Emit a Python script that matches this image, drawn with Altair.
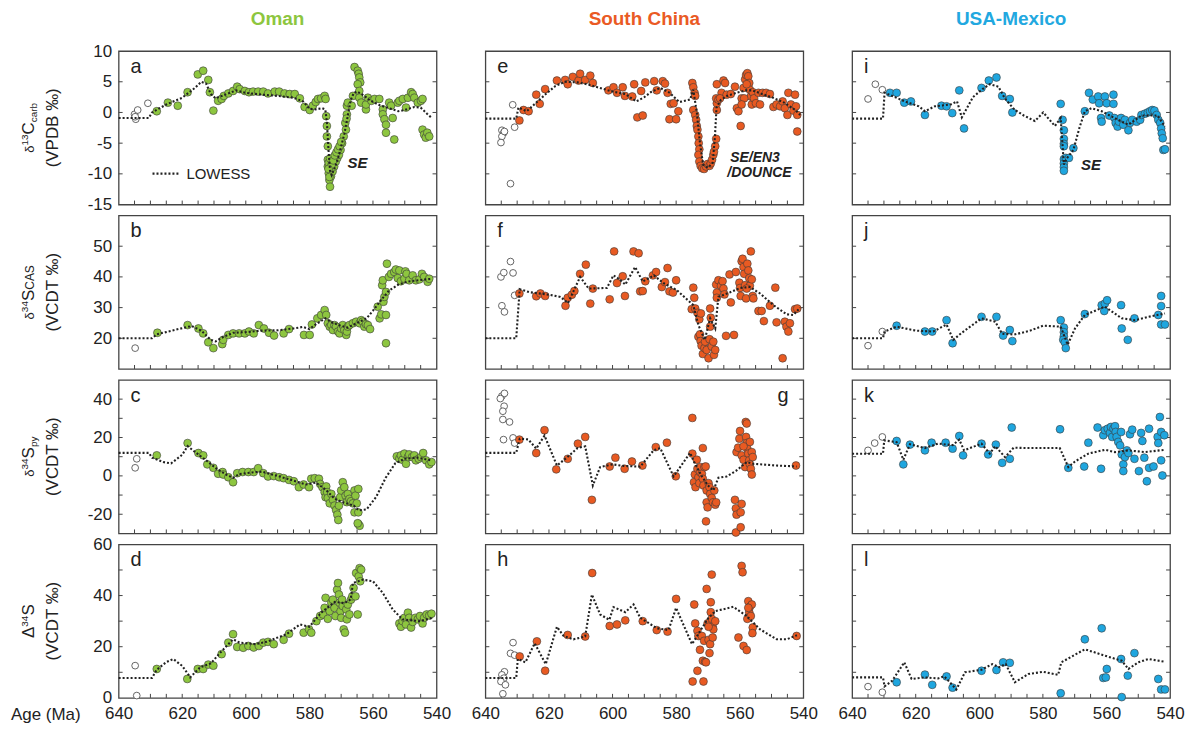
import altair as alt
import pandas as pd

# ---------------- data: (age Ma, value) ----------------
# Oman
A_OPEN = [(635.0,-0.3),(634.6,-1.1),(634.0,0.4),(634.8,-0.7),(630.8,1.5)]
A_PTS = [(628.0,0.2),(624.5,1.6),(621.4,1.1),(618.3,3.3),(615.1,6.2),(613.4,6.8),(611.8,5.3),(611.3,3.3),(610.2,0.3),
 (608.7,1.9),(607.6,2.2),(606.9,2.7),(605.5,3.1),(604.0,3.5),(602.7,4.2),(601.9,3.8),(600.3,3.5),(599.0,3.3),(597.7,3.4),
 (596.1,3.4),(594.5,3.4),(593.0,3.1),(590.9,3.4),(589.5,3.4),(587.8,3.1),(586.2,3.0),(584.6,3.0),(583.0,2.3),(581.5,0.9),
 (579.9,0.4),(578.9,1.1),(578.0,1.7),(577.3,2.2),(576.3,2.3),(575.2,2.7),(574.9,2.2),(574.7,-0.6),(574.5,-2.2),(574.5,-3.9),
 (574.2,-5.5),(574.2,-7.7),(574.2,-8.8),(573.9,-9.9),(573.7,-11.0),(573.5,-12.1),(573.2,-10.4),(572.7,-9.6),(572.2,-8.8),
 (571.7,-8.0),(571.2,-7.4),(570.7,-6.9),(570.2,-6.1),(569.7,-5.0),(569.2,-3.9),(573.9,-8.2),(573.5,-7.5),(573.0,-8.5),
 (572.5,-7.8),(572.0,-7.0),(571.5,-6.5),(571.0,-6.0),(570.5,-5.5),(570.0,-4.8),(573.7,-10.5),(574.0,-9.2),(568.7,-1.7),
 (568.2,-0.3),(568.2,1.1),(567.9,1.6),(568.5,-2.8),(568.3,-1.0),(566.3,2.7),(566.7,1.1),(565.8,7.4),(564.8,6.8),(564.5,6.3),
 (564.3,5.7),(564.0,4.9),(564.8,4.6),(564.3,3.5),(564.3,2.4),(563.7,1.6),(562.2,0.5),(562.2,1.3),(561.6,2.4),(560.5,1.9),
 (559.5,2.2),(558.0,2.2),(556.9,0.5),(556.9,-0.3),(556.4,-1.1),(555.9,-2.0),(555.9,-3.3),(553.3,-4.4),(554.9,1.6),(554.3,1.1),
 (553.8,-0.9),(552.2,1.6),(551.7,1.9),(550.6,2.2),(549.6,0.8),(549.0,2.4),(548.0,3.3),(547.5,3.0),(547.0,2.4),(545.9,1.6),
 (544.9,1.9),(544.4,2.2),(544.4,-2.8),(543.9,-3.6),(543.4,-4.1),(542.9,-3.3),(542.3,-3.9)]
A_LOW = [(640,-0.9),(630.5,-0.9),(629.5,0.0),(625,1.3),(620,2.4),(616,4.0),(614,5.0),(612.5,4.7),(611,3.0),(609.5,2.3),
 (606,3.0),(603,3.6),(600,3.2),(595,2.9),(590,2.7),(585,2.4),(582,1.8),(580,0.6),(578,0.5),(576,0.7),(575,0.5),(574.5,-1.5),
 (574,-6),(573.5,-9.5),(573,-10.2),(572,-9),(571,-7.5),(570,-5.5),(569,-3.5),(568,-0.8),(567,2.0),(566,3.2),(565,3.4),
 (563,2.8),(561,2.0),(558,1.2),(555,0.7),(552,0.2),(550,0.4),(547,0.9),(545,0.8),(543,-0.2),(541.5,-0.9)]

B_OPEN = [(634.8,16.8)]
B_PTS = [(627.8,21.8),(618.3,24.3),(614.9,23.2),(613.4,21.6),(611.8,18.7),(610.2,16.8),(607.4,18.1),(607.1,19.5),(605.5,21.1),
 (604.0,21.6),(602.1,21.6),(600.3,21.6),(599.0,22.2),(597.5,21.6),(595.9,24.3),(594.3,23.2),(592.7,21.8),(591.1,20.9),
 (588.1,21.6),(586.4,23.0),(581.7,21.1),(579.9,21.1),(579.2,24.5),(577.5,26.5),(576.3,27.6),(575.2,29.2),(574.7,27.6),
 (574.2,24.9),(573.6,23.8),(573.1,24.3),(572.6,22.7),(572.1,24.3),(571.6,23.8),(571.0,22.2),(570.5,21.6),(570.0,23.2),
 (569.5,24.3),(569.0,22.7),(568.4,21.1),(568.2,22.2),(567.9,23.8),(567.4,24.3),(566.3,24.9),(565.3,25.4),(564.2,24.9),
 (563.7,25.9),(563.2,25.4),(562.7,23.8),(562.2,24.6),(561.6,24.3),(560.9,23.0),(558.5,30.3),(557.9,26.5),(557.4,27.8),
 (557.1,37.3),(556.9,38.9),(556.7,31.9),(556.4,33.5),(555.9,35.1),(555.9,27.6),(555.9,18.4),(555.6,44.3),(555.0,40.0),
 (554.3,41.0),(553.3,41.6),(552.8,42.4),(551.7,42.1),(552.2,39.6),(551.2,38.6),(550.1,39.4),(549.8,41.8),(549.4,41.0),
 (548.6,38.9),(547.5,40.5),(546.5,38.9),(545.4,39.2),(544.6,41.0),(543.9,40.0),(542.8,38.4),(542.3,39.4)]
B_LOW = [(640,20),(629.5,20),(628,21.3),(620,23.3),(617,24),(614,22.5),(611,19.5),(609.5,19),(607,20.5),(604,21.8),
 (600,22.0),(595,22.5),(590,22.6),(585,23.2),(582,23.7),(580,23.0),(578,24.5),(575,26.5),(573,25.2),(570,24),(568,23.5),
 (565,25),(562,26.5),(560,29),(557,33),(555,35.5),(552,37.5),(549,38.5),(545,39),(541.5,39.4)]

C_OPEN = [(634.8,4.2),(634.3,8.9)]
C_PTS = [(628.0,10.7),(618.3,17.1),(614.9,11.9),(613.4,10.7),(612.1,6.0),(610.2,4.2),(608.7,1.1),(607.3,2.0),(607.1,0.7),
 (605.5,-0.7),(604.0,-3.3),(602.7,1.4),(601.0,2.0),(599.2,2.0),(597.5,2.0),(596.1,4.0),(594.5,1.4),(593.0,-0.3),(591.2,-0.1),
 (589.5,-0.7),(588.1,-1.2),(586.4,-2.1),(584.9,-2.8),(583.3,-5.9),(581.8,-4.5),(580.1,-5.9),(579.4,-1.5),(578.3,-1.2),
 (577.0,-1.5),(576.6,-4.2),(575.9,-5.9),(575.2,-8.5),(574.9,-11.1),(574.7,-5.5),(574.4,-8.5),(574.2,-11.5),(573.6,-14.3),
 (573.1,-9.4),(572.6,-12.5),(572.1,-15.5),(571.6,-17.8),(571.2,-20.2),(570.9,-23.0),(570.7,-15.5),(570.3,-11.1),(570.0,-7.6),
 (569.5,-3.3),(569.0,-5.9),(568.6,-10.3),(568.2,-13.7),(567.9,-9.4),(567.4,-12.0),(566.9,-13.2),(566.3,-14.3),(565.8,-7.6),
 (565.5,-10.3),(565.1,-14.3),(564.6,-6.8),(565.8,-19.0),(564.6,-19.0),(564.6,-25.1),(564.2,-26.0),(564.8,-24.7),
 (552.5,10.2),(551.7,8.9),(551.2,10.7),(550.7,8.4),(550.1,11.6),(549.6,6.3),(549.0,9.8),(548.6,11.2),(547.7,9.8),
 (547.0,10.7),(546.5,8.1),(545.6,8.9),(544.9,9.8),(544.2,11.9),(543.3,8.1),(542.3,6.0),(541.6,7.2)]
C_LOW = [(640,12),(630.5,12),(629.5,9.5),(626,7.2),(623.5,6.5),(620,11),(618.3,15.5),(616,12.5),(612,7.5),(609,3.5),
 (606,0.5),(604,-1),(602,1),(598,1.8),(595,2.2),(590,0),(585,-2.5),(581,-4.5),(578,-3.5),(575,-7),(572,-12),(569,-14),
 (566,-15.5),(564.5,-18),(562,-17.5),(559,-11),(556,-1),(553,6.5),(550,9),(546,9.5),(541.5,8)]

D_OPEN = [(634.8,12.6),(634.3,0.9)]
D_PTS = [(628.0,11.3),(618.4,7.4),(615.1,11.3),(613.4,11.3),(611.8,13.0),(610.2,12.6),(607.6,17.1),(605.5,21.6),(604.0,24.9),
 (602.7,19.9),(600.8,19.6),(599.2,20.3),(597.5,19.7),(595.9,20.3),(594.5,21.6),(593.0,21.9),(591.2,21.0),(588.1,22.7),
 (586.4,25.1),(581.8,25.5),(580.1,26.8),(579.4,25.5),(577.8,30.0),(576.6,32.0),(575.7,32.6),(575.2,35.2),(574.9,39.1),
 (574.2,30.9),(573.6,33.9),(573.1,37.2),(572.6,38.4),(572.1,35.2),(571.8,32.0),(571.3,42.3),(571.0,44.9),(570.7,40.4),
 (570.5,37.2),(570.2,33.9),(570.0,31.3),(569.7,38.4),(569.5,35.9),(569.2,26.8),(568.8,25.5),(568.4,34.6),(568.2,30.7),
 (567.9,36.5),(567.4,32.6),(566.9,38.4),(566.5,39.7),(566.1,43.0),(565.5,39.7),(565.3,48.8),(564.8,32.6),(564.5,47.5),
 (564.2,50.7),(564.0,45.6),(563.7,50.1),(551.7,29.1),(551.2,27.8),(550.7,30.0),(550.1,31.3),(549.6,28.7),(549.0,33.3),
 (548.6,31.3),(548.0,27.5),(547.5,29.7),(546.7,31.3),(545.9,30.7),(545.2,32.0),(544.4,29.1),(543.9,31.3),(543.1,32.6),
 (542.3,32.2),(541.6,32.9)]
D_LOW = [(640,7.8),(629.5,7.8),(628,11),(625,14),(622.8,15.2),(620,12.5),(618,9.0),(617.5,8.0),(614.4,11.9),(611,13.5),
 (608,17.7),(604,22.9),(601.9,21.6),(597,21.0),(593.5,21.9),(587.2,24.9),(583,28.7),(580,27.8),(576.3,33.3),(572,37.5),
 (569,37),(567,38.5),(566.3,44.9),(563.2,46.2),(560,45.6),(556.9,41),(553.8,34.6),(550.7,30.7),(545.4,30),(541.3,31.3)]

# South China
E_OPEN = [(631.4,1.25),(630.8,-2.4),(634.8,-2.9),(634.2,-3.3),(634.8,-3.9),(635.1,-4.9),(632.1,-11.6),(634.0,-3.1)]
E_PTS = [(629.3,-1.3),(628.0,0.4),(626.4,0.2),(624.0,2.9),(622.9,1.4),(621.2,3.8),(617.5,5.2),(614.9,5.3),(614.1,4.6),
 (612.5,5.8),(610.7,5.2),(610.2,6.3),(608.6,5.3),(607.0,6.0),(606.2,4.8),(601.3,3.6),(599.7,4.1),(598.6,3.2),(596.8,4.1),
 (596.1,2.7),(593.8,2.6),(593.2,4.6),(592.2,-0.8),(590.5,-0.5),(591.0,3.5),(589.7,4.9),(586.9,5.1),(586.1,3.6),(584.2,5.1),
 (583.5,4.7),(582.7,3.2),(581.7,1.4),(580.8,1.5),(582.1,-1.1),(580.0,-1.1),(579.3,0.2),(574.9,4.8),(574.6,4.1),(574.2,3.2),
 (574.0,2.7),(574.6,0.4),(574.0,-0.4),(573.7,-1.2),(573.5,-2.2),(573.3,-2.8),(573.0,-3.9),(572.9,-5.0),(572.7,-6.0),
 (573.0,-6.9),(572.7,-8.0),(572.3,-8.7),(571.8,-9.1),(571.2,-9.2),(570.6,-8.8),(570.1,-8.4),(569.5,-8.7),(569.1,-8.3),
 (568.7,-7.7),(568.3,-6.9),(568.1,-6.4),(567.7,-5.5),(567.4,-4.3),(567.2,0.4),(567.2,1.5),(567.4,2.3),(567.2,4.6),
 (565.1,5.2),(564.6,4.8),(565.7,3.2),(566.7,2.1),(566.2,2.3),(564.1,2.9),(562.8,3.0),(561.5,4.2),(560.9,0.7),(560.4,0.2),
 (559.7,-2.2),(559.4,2.3),(558.8,4.0),(558.3,5.4),(558.0,6.1),(557.6,6.4),(557.3,5.9),(557.0,4.8),(556.8,3.7),(556.5,2.6),
 (556.2,1.3),(557.8,4.6),(558.6,2.3),(559.4,1.3),(555.9,3.3),(555.5,2.3),(554.9,1.5),(554.1,3.2),(553.6,1.3),(552.8,3.2),
 (551.7,3.2),(550.5,3.0),(549.4,0.9),(548.4,1.3),(547.3,1.0),(546.5,1.8),(545.8,0.7),(545.0,-0.4),(544.7,3.2),(543.9,1.3),
 (543.1,0.3),(542.3,1.0),(541.9,-0.4),(541.9,-3.1),(542.6,2.9)]
E_LOW = [(640,-1.0),(630.3,-1.0),(629.6,0.8),(627,0.2),(624,1.6),(621,3.0),(618,4.3),(615,5.0),(611,4.9),(608,4.6),
 (604,4.0),(600,3.4),(596,3.0),(592.5,1.8),(590,2.5),(588,3.3),(585,4.0),(582,3.2),(579,1.7),(576.5,2.0),(575.6,2.1),
 (574.6,3.7),(573.5,0),(572.5,-5),(571.5,-8.5),(570,-9.0),(568.5,-8.2),(567.8,-4),(567.3,0.8),(566,2.0),(564,2.7),
 (561,3.2),(558,3.6),(556,3.6),(553,3.0),(550,2.5),(546,1.6),(542.5,0.4),(541,-0.4)]

F_OPEN = [(635.1,40.0),(634.2,41.4),(632.1,45.0),(631.3,41.3),(634.8,30.6),(634.0,28.6),(630.8,34.0)]
F_PTS = [(629.3,34.6),(624.0,33.7),(622.7,34.6),(621.2,33.8),(614.8,30.6),(614.1,33.2),(612.8,34.2),(612.0,35.4),
 (610.2,41.0),(608.4,44.0),(607.0,31.3),(606.2,36.2),(600.9,32.7),(599.5,48.3),(598.6,38.0),(596.8,40.2),(596.1,33.8),
 (593.4,48.3),(591.8,47.7),(591.3,35.3),(590.5,35.4),(589.7,38.6),(587.3,40.5),(586.3,41.6),(584.5,36.7),(583.5,38.3),
 (582.7,42.9),(582.1,35.3),(581.0,34.9),(580.0,38.9),(574.6,36.5),(574.3,33.2),(575.1,29.5),(574.0,29.7),(573.3,28.3),
 (572.7,26.2),(572.2,28.1),(573.0,20.5),(572.5,21.3),(572.3,19.1),(572.0,17.6),(571.6,14.9),(571.1,16.8),(570.9,18.9),
 (570.4,16.2),(569.8,13.5),(569.5,19.7),(569.1,26.7),(569.3,23.8),(569.3,29.7),(568.8,17.3),(568.3,18.9),(568.1,14.6),
 (567.7,16.2),(567.2,34.9),(567.2,33.2),(567.4,37.5),(566.7,38.9),(565.9,37.1),(565.4,38.6),(565.1,36.2),(564.8,34.3),
 (564.3,20.8),(563.2,40.8),(562.8,31.7),(561.8,21.1),(561.2,41.6),(560.1,38.1),(559.9,36.4),(559.7,33.8),(559.4,45.1),
 (559.1,45.9),(558.8,43.2),(558.6,41.0),(558.3,37.3),(558.0,33.0),(557.6,44.3),(557.3,42.1),(557.0,39.6),(556.8,37.1),
 (556.5,48.3),(556.2,39.2),(555.9,33.8),(555.7,33.0),(557.8,36.2),(554.1,28.9),(553.1,28.9),(552.4,25.6),(550.5,30.6),
 (548.8,36.5),(548.4,25.2),(545.8,25.4),(545.3,23.8),(544.7,22.2),(544.2,24.9),(546.5,13.5),(542.6,29.5),(541.9,29.7)]
F_LOW = [(640,20),(630.3,20),(629.2,36.0),(626,35.0),(620,34.2),(616.4,33.5),(614,31.5),(610.2,40.0),(607.5,36.2),
 (601.8,36.4),(599.7,40.5),(597.8,39.2),(596,37.5),(592.9,43.2),(590.5,38.5),(587,40.5),(584,38),(579.8,35.7),(574.6,30.8),
 (573,24.3),(571,19.5),(569.3,26.5),(567.7,23.2),(566.7,33.5),(563,35),(559.9,36.4),(556.8,36.7),(553.6,34.6),(549.4,30.8),
 (545.2,27.8),(543.1,27.6),(541,30)]

G_OPEN = [(634.8,41.6),(634.0,43.0),(635.3,40.3),(634.1,36.3),(634.5,33.7),(634.5,29.4),(632.4,28.1),(634.3,18.9),
 (631.3,19.8),(630.8,17.1)]
G_PTS = [(629.3,18.9),(624.0,11.9),(621.4,23.8),(617.7,3.4),(614.1,8.9),(610.9,16.8),(608.6,20.3),(606.5,-12.5),
 (600.9,4.9),(599.1,9.5),(596.2,3.7),(593.9,7.5),(590.6,5.4),(586.4,15.0),(582.9,17.3),(580.1,-0.2),(574.9,30.2),
 (574.9,11.6),(573.5,8.4),(571.6,14.5),(574.4,-3.3),(574.1,0.7),(573.9,-5.9),(573.3,3.7),(573.0,-0.7),(572.7,-3.8),
 (572.5,2.0),(572.3,4.6),(571.9,1.1),(571.6,-1.5),(571.4,-5.0),(571.1,4.6),(570.7,4.9),(570.4,-7.6),(569.8,-3.8),
 (569.5,-5.9),(569.3,-9.4),(570.4,-13.8),(570.1,-16.4),(570.6,-23.7),(568.8,-11.5),(568.4,-13.8),(567.7,-15.0),
 (567.4,-13.8),(568.0,-7.6),(561.5,-12.5),(561.2,-16.9),(561.0,-20.2),(559.4,-14.6),(559.7,-19.0),(561.2,-29.5),
 (559.7,-26.8),(561.0,12.4),(560.5,14.7),(560.1,19.4),(559.9,23.4),(559.4,10.7),(558.8,8.4),(558.3,4.6),(558.1,28.1),
 (557.8,27.3),(558.0,20.3),(557.8,17.1),(557.6,14.2),(557.3,11.6),(557.0,8.1),(556.8,6.0),(556.5,3.7),(556.2,0.7),
 (556.8,17.7),(556.2,12.4),(555.9,9.8),(558.8,15.4),(542.3,5.4)]
G_LOW = [(640,12),(630.3,12),(629.2,19.4),(626.5,19.0),(624,14.2),(621.4,21.0),(617.5,5.4),(614.4,9.5),(611,14.5),
 (608.6,15.4),(606.2,-5.0),(603.9,4.6),(600,6.0),(596.5,5.2),(591.3,4.8),(587.1,13.3),(585,14.5),(580.8,-0.3),(575.6,12),
 (574.6,8.1),(572,0),(570,-5),(568.3,-7.6),(566.7,-1.0),(564.1,-0.3),(561,2.8),(557.8,7.2),(555.7,6.3),(548.4,5.4),
 (542.1,4.9)]

H_OPEN = [(634.0,10.2),(634.8,9.0),(634.2,7.7),(635.1,6.4),(633.7,5.1),(634.5,1.6),(631.3,21.6),(632.1,17.4),(630.8,16.7)]
H_PTS = [(629.2,16.2),(623.8,22.1),(621.2,10.6),(614.1,24.6),(608.6,24.0),(606.4,48.8),(600.9,28.1),(598.6,28.7),
 (596.0,30.3),(590.5,30.0),(586.1,26.5),(582.7,25.9),(580.0,38.7),(574.8,6.4),(574.3,36.5),(574.0,29.1),(573.3,26.2),
 (573.0,24.2),(573.3,10.6),(572.5,18.8),(571.9,24.2),(571.6,14.5),(571.4,6.4),(571.2,22.3),(570.9,14.1),(570.6,13.9),
 (570.4,42.6),(570.1,29.1),(569.8,22.7),(569.5,17.5),(569.3,21.0),(569.5,29.4),(569.1,37.4),(568.8,48.2),(569.1,33.5),
 (568.8,30.9),(568.5,27.8),(568.3,26.8),(567.7,30.0),(569.8,27.8),(568.5,23.6),(560.4,23.6),(559.4,51.6),(559.1,49.1),
 (558.8,20.3),(557.8,18.7),(557.6,30.9),(557.3,37.8),(557.0,33.5),(556.8,35.6),(556.5,32.0),(556.2,36.5),(555.9,27.5),
 (556.0,25.3),(557.3,35.2),(542.1,24.2)]
H_LOW = [(640,7.8),(630.3,7.8),(629.8,15.2),(627.4,13.9),(624.5,21.3),(621,13.2),(617.5,27.8),(615.4,24.2),(612.3,22.9),
 (608.6,24.0),(606.5,40.4),(603.9,32.6),(601,30.5),(599.7,35.5),(596,33.5),(593.4,36.5),(591.3,31.3),(586,27.2),(582.4,26.5),
 (580,35.2),(578.2,30),(575,21),(572.5,26),(570,31),(567.7,33.9),(562,35.6),(557.8,32),(553.6,26.8),(548.4,22.9),
 (545.2,22.9),(542,24.5)]

# USA-Mexico
I_OPEN = [(635.0,2.2),(632.7,4.6),(630.5,3.7)]
I_PTS = [(628.1,3.2),(626.0,3.2),(623.6,1.6),(621.5,1.8),(617.1,-0.4),(611.9,1.1),(610.3,1.0),(608.5,-0.1),(606.3,3.6),
 (604.8,-2.6),(599.3,4.0),(597.0,5.2),(594.6,5.7),(592.8,2.7),(590.4,2.2),(589.6,0.0),(574.4,1.4),(573.8,-1.2),(573.4,-2.9),
 (573.4,-4.3),(573.4,-5.1),(573.4,-5.5),(573.4,-7.6),(573.4,-8.3),(573.4,-8.9),(573.4,-9.5),(572.8,-7.4),(571.8,-7.4),
 (570.4,-5.8),(566.8,0.2),(565.5,3.2),(564.3,2.1),(562.6,2.6),(562.3,1.5),(561.7,-0.9),(561.5,-1.5),(560.5,2.6),
 (559.9,1.5),(557.8,2.9),(557.8,1.4),(559.1,-0.5),(557.5,-0.9),(557.1,-1.7),(556.5,-2.3),(556.1,-1.5),(555.4,-0.9),
 (554.7,-2.0),(554.2,-1.2),(553.1,-2.9),(552.6,-1.7),(551.9,-1.2),(550.5,-1.5),(549.4,-1.2),(549.0,-0.4),(547.9,-0.2),
 (547.0,0.0),(546.3,0.2),(545.6,0.4),(544.9,0.3),(544.2,-0.4),(543.7,-1.2),(543.1,-1.7),(542.8,-2.6),(542.6,-3.4),
 (542.3,-4.2),(542.1,-6.1),(541.6,-6.0)]
I_LOW = [(640,-1.0),(630.3,-1.0),(629.8,3.2),(627,2.6),(623.4,1.8),(619,1.0),(617.1,0.2),(614,1.0),(609,1.3),(607,1.8),
 (605.5,-0.8),(602,2.5),(599,3.8),(596.7,4.6),(594,4.2),(592,2.3),(589,0.5),(586,-0.5),(582.5,-1.4),(579.9,0),(576.2,-2.2),
 (574.4,-0.9),(573.4,-8.5),(572.5,-7.5),(570.4,-6.1),(568.5,-2.5),(566.8,0.2),(564.7,0.7),(561.5,0.2),(557.5,-0.9),
 (553.1,-2.0),(549,-0.5),(544,-0.5),(541.6,-2.3)]

J_OPEN = [(635.0,17.6),(630.5,22.2)]
J_PTS = [(626.0,24.1),(617.1,22.2),(614.8,22.2),(610.3,25.9),(608.4,18.4),(599.3,27.0),(594.6,27.0),(592.5,20.9),
 (590.4,22.7),(589.6,19.1),(574.4,25.9),(573.4,23.5),(573.4,22.0),(573.4,20.6),(573.6,19.5),(573.1,18.7),(572.8,16.8),
 (566.8,27.9),(561.5,30.8),(560.7,28.9),(560.5,31.3),(559.8,32.4),(555.4,30.8),(555.2,23.2),(553.3,19.5),(551.2,26.5),
 (543.7,27.6),(542.8,33.8),(542.8,30.5),(542.8,24.5),(541.6,24.5)]
J_LOW = [(640,20),(630.3,20),(629.8,22.2),(626,23.8),(620,22.5),(614.5,22.2),(610.3,24.5),(608.2,19.5),(605.5,21.8),
 (599.3,26.5),(595,25.4),(592.8,21.5),(589,21.2),(584,22.5),(579.9,24.1),(574.4,23.8),(572.2,17.9),(569.9,23.2),(566.8,27.6),
 (560.5,30.3),(555.2,26.5),(551,25.9),(546.8,27.0),(541.6,28.1)]

K_OPEN = [(635.0,13.3),(632.9,17.1),(630.5,20.3)]
K_PTS = [(626.0,18.2),(623.9,6.0),(621.8,16.3),(617.1,13.3),(615.0,17.3),(610.6,17.3),(608.4,14.2),(606.3,20.8),(605.1,10.7),
 (599.3,16.8),(597.2,11.2),(594.8,16.3),(592.8,6.8),(590.4,8.9),(589.8,25.2),(574.6,24.3),(572.0,4.2),(567.0,4.9),
 (565.7,17.3),(562.8,25.2),(561.7,3.7),(561.0,21.2),(560.5,23.8),(559.6,24.6),(558.9,22.4),(558.6,25.5),(558.2,20.3),
 (557.8,24.6),(557.3,25.9),(557.1,22.9),(556.8,20.3),(556.3,17.7),(555.7,15.9),(555.4,22.9),(555.2,11.2),(554.7,6.0),
 (554.7,2.5),(554.2,9.8),(553.6,13.3),(553.1,11.9),(552.6,21.7),(551.9,24.1),(551.2,8.9),(549.8,2.5),(549.1,22.4),
 (548.7,18.2),(548.1,9.5),(547.3,-2.8),(546.6,24.6),(546.6,4.2),(545.2,4.9),(543.9,20.3),(543.7,17.1),(543.2,30.7),
 (542.8,22.9),(542.8,8.1),(542.4,0.2),(541.8,21.2)]
K_LOW = [(640,11.5),(630.3,11.5),(629.9,18.5),(626,17.6),(623.9,8.4),(621.8,16.5),(617.1,14.5),(613,16.8),(608.4,16),
 (606.3,18.9),(604.8,13.3),(599.3,16.8),(596.7,11.6),(595,15.5),(591.9,9.8),(589.2,14.7),(584.6,14.5),(574.7,14.5),
 (572,4.6),(569.9,7.5),(565.7,11.6),(560.5,13.6),(557.3,12.4),(553.1,13.3),(547.9,12.4),(541.6,13.6)]

L_OPEN = [(635.0,4.4),(630.5,2.2)]
L_PTS = [(626.0,6.1),(617.1,9.1),(614.8,5.1),(610.3,8.4),(608.4,4.0),(599.3,10.6),(594.6,10.9),(592.5,13.9),(590.4,13.7),
 (574.4,1.8),(566.8,22.9),(561.5,27.2),(561.0,7.8),(560.2,8.0),(559.9,11.3),(555.4,15.2),(555.2,0.3),(553.3,8.7),
 (551.2,17.5),(543.7,7.4),(542.8,3.3),(541.6,3.3)]
L_LOW = [(640,8),(630.3,8),(629.8,4.5),(627.4,6.7),(623.6,13.9),(621.3,7.4),(617.1,8.0),(613,7.6),(611,8.4),(607.2,3.3),
 (604.5,10.0),(599.3,11.0),(595.9,13.2),(593.8,12.0),(591.7,13.2),(588.8,6.1),(584.6,9.3),(579.9,10.2),(575.2,9.0),
 (574.2,13.9),(566.8,19.0),(560.5,16.5),(555.2,14.5),(553.1,11.3),(550,13.9),(546.8,15.2),(541.6,14.1)]

ANNOT_A = [(568.0, -8.3, "SE")]
ANNOT_E = [(563.0, -7.4, "SE/EN3"), (563.9, -9.9, "/DOUNCE")]
ANNOT_I = [(568.0, -8.5, "SE")]

COL_TITLES = ["Oman", "South China", "USA-Mexico"]
COL_COLORS = ["#8dc63f", "#e85a22", "#1fa6df"]
TITLE_COLORS = ["#8dc63f", "#ea5a24", "#22a8e0"]
LETTERS = ["a", "b", "c", "d", "e", "f", "g", "h", "i", "j", "k", "l"]

ROW_DOMAINS = [(-15, 10), (10, 60), (-30, 50), (0, 60)]
ROW_LABELS = [[-15, -10, -5, 0, 5, 10], [20, 30, 40, 50], [-20, 0, 20, 40], [0, 20, 40, 60]]
ROW_TICKS = [[-10, -5, 0, 5], [20, 30, 40, 50], [-20, -10, 0, 10, 20, 30, 40], [10, 20, 30, 40, 50]]
X_LABELS = [640, 620, 600, 580, 560, 540]
X_TICKS = [635, 630, 625, 620, 615, 610, 605, 600, 595, 590, 585, 580, 575, 570, 565, 560, 555, 550, 545]

# y-axis titles: (text, fontSize, perpendicular shift)
YTITLES = [
    [("δ", 13, 0), ("13", 10, -6), ("C", 17, 0), ("carb", 10, 3)],
    [("δ", 13, 0), ("34", 10, -6), ("S", 17, 0), ("CAS", 12, 0)],
    [("δ", 13, 0), ("34", 10, -6), ("S", 17, 0), ("py", 10, 3)],
    [("Δ", 17, 0), ("34", 10, -6), ("S", 17, 0)],
]
YTITLES2 = ["(VPDB ‰)", "(VCDT ‰)", "(VCDT ‰)", "(VCDT ‰)"]

W, H = 319, 154
FONT = "Liberation Sans"
INK = "#222222"
FRAME = "#444444"

EM = {"δ": 0.56, "Δ": 0.67, "C": 0.72, "S": 0.67, "A": 0.67, "c": 0.5, "a": 0.556, "r": 0.333,
      "b": 0.556, "p": 0.556, "y": 0.5}


def tw(s, fs):
    return sum(EM.get(ch, 0.556) for ch in s) * fs


ONE = pd.DataFrame({"k": [0]})


def to_df(pts):
    return pd.DataFrame({"age": [p[0] for p in pts], "val": [p[1] for p in pts],
                         "i": list(range(len(pts)))})


def panel(pts, opn, low, row, col, letter, annots=None):
    lo, hi = ROW_DOMAINS[row]
    xs = alt.Scale(domain=[540, 640], reverse=True, nice=False, zero=False)
    ys = alt.Scale(domain=[lo, hi], nice=False, zero=False)
    if row == 3:
        xax = alt.Axis(values=X_LABELS, labelFlush=False, labelPadding=8, title=None,
                       labelExpr="'' + datum.value")
    else:
        xax = None
    if col == 0:
        yax = alt.Axis(values=ROW_LABELS[row], labelPadding=7, title=None,
                       labelExpr="'' + datum.value")
    else:
        yax = None
    X = alt.X("age:Q", scale=xs, axis=xax)
    Y = alt.Y("val:Q", scale=ys, axis=yax)

    layers = []
    # inward ticks
    xt = pd.DataFrame({"age": X_TICKS})
    yt = pd.DataFrame({"val": ROW_TICKS[row]})
    layers.append(alt.Chart(xt).mark_rule(color=FRAME, strokeWidth=1).encode(
        x=X, y=alt.value(H), y2=alt.value(H - 4)))
    layers.append(alt.Chart(yt).mark_rule(color=FRAME, strokeWidth=1).encode(
        y=Y, x=alt.value(0), x2=alt.value(4)))
    layers.append(alt.Chart(yt).mark_rule(color=FRAME, strokeWidth=1).encode(
        y=Y, x=alt.value(W), x2=alt.value(W - 4)))
    # data points
    layers.append(alt.Chart(to_df(opn)).mark_circle(
        size=46, fill="white", stroke="#555555", strokeWidth=0.9, fillOpacity=1, opacity=1).encode(x=X, y=Y))
    layers.append(alt.Chart(to_df(pts)).mark_circle(
        size=62, fill=COL_COLORS[col], stroke="#3a3a3a", strokeWidth=0.6, fillOpacity=1, opacity=1).encode(x=X, y=Y))
    # LOWESS
    layers.append(alt.Chart(to_df(low)).mark_line(
        color=INK, strokeWidth=2.1, strokeDash=[2, 2]).encode(x=X, y=Y, order="i:Q"))
    # panel letter
    lx = W - 26 if letter == "g" else 12
    layers.append(alt.Chart(ONE).mark_text(
        fontSize=20, align="left", baseline="alphabetic", color=INK, font=FONT).encode(
        x=alt.value(lx), y=alt.value(22), text=alt.value(letter)))
    # annotations
    if annots:
        adf = pd.DataFrame({"age": [a[0] for a in annots], "val": [a[1] for a in annots],
                            "t": [a[2] for a in annots]})
        layers.append(alt.Chart(adf).mark_text(
            fontSize=14 if len(annots) > 1 else 15, fontWeight="bold", fontStyle="italic",
            align="left", baseline="middle", color=INK, font=FONT).encode(x=X, y=Y, text="t:N"))
    if letter == "a":
        layers.append(alt.Chart(ONE).mark_rule(color=INK, strokeWidth=2.1, strokeDash=[2, 2]).encode(
            x=alt.value(34), x2=alt.value(62), y=alt.value(123)))
        layers.append(alt.Chart(ONE).mark_text(
            fontSize=15, align="left", baseline="middle", color=INK, font=FONT).encode(
            x=alt.value(68), y=alt.value(123), text=alt.value("LOWESS")))
    # column title (top row)
    if row == 0:
        layers.append(alt.Chart(ONE).mark_text(
            fontSize=19, fontWeight="bold", align="center", baseline="middle",
            color=TITLE_COLORS[col], font=FONT).encode(
            x=alt.value(W / 2), y=alt.value(-32), text=alt.value(COL_TITLES[col])))
    # y titles (left column)
    if col == 0:
        pieces = YTITLES[row]
        total = sum(tw(t, fs) for t, fs, sh in pieces)
        yy = H / 2 + total / 2
        for t, fs, sh in pieces:
            layers.append(alt.Chart(ONE).mark_text(
                angle=270, align="left", baseline="alphabetic", fontSize=fs, color=INK, font=FONT).encode(
                x=alt.value(-85 + sh), y=alt.value(yy), text=alt.value(t)))
            yy -= tw(t, fs)
        layers.append(alt.Chart(ONE).mark_text(
            angle=270, align="center", baseline="alphabetic", fontSize=17, color=INK, font=FONT).encode(
            x=alt.value(-61), y=alt.value(H / 2), text=alt.value(YTITLES2[row])))
        if row == 3:
            layers.append(alt.Chart(ONE).mark_text(
                align="left", baseline="middle", fontSize=17, color=INK, font=FONT).encode(
                x=alt.value(-108), y=alt.value(H + 17), text=alt.value("Age (Ma)")))

    return alt.layer(*layers).properties(width=W, height=H)


DATA = [
    [(A_PTS, A_OPEN, A_LOW, ANNOT_A), (B_PTS, B_OPEN, B_LOW, None), (C_PTS, C_OPEN, C_LOW, None), (D_PTS, D_OPEN, D_LOW, None)],
    [(E_PTS, E_OPEN, E_LOW, ANNOT_E), (F_PTS, F_OPEN, F_LOW, None), (G_PTS, G_OPEN, G_LOW, None), (H_PTS, H_OPEN, H_LOW, None)],
    [(I_PTS, I_OPEN, I_LOW, ANNOT_I), (J_PTS, J_OPEN, J_LOW, None), (K_PTS, K_OPEN, K_LOW, None), (L_PTS, L_OPEN, L_LOW, None)],
]

panels = []
for r in range(4):
    for c in range(3):
        p, o, l, an = DATA[c][r]
        panels.append(panel(p, o, l, r, c, LETTERS[c * 4 + r], an))

chart = alt.concat(*panels, columns=3, spacing={"row": 11, "column": 49}, bounds="flush").properties(
    padding={"left": 2, "top": 0, "right": 0, "bottom": 0}
).configure(font=FONT).configure_view(
    stroke=FRAME, strokeWidth=1.3
).configure_axis(
    labelFont=FONT, labelFontSize=17, labelColor=INK, grid=False, ticks=False, domain=False
)

chart.save("out.html", embed_options={"renderer": "svg", "actions": False})
